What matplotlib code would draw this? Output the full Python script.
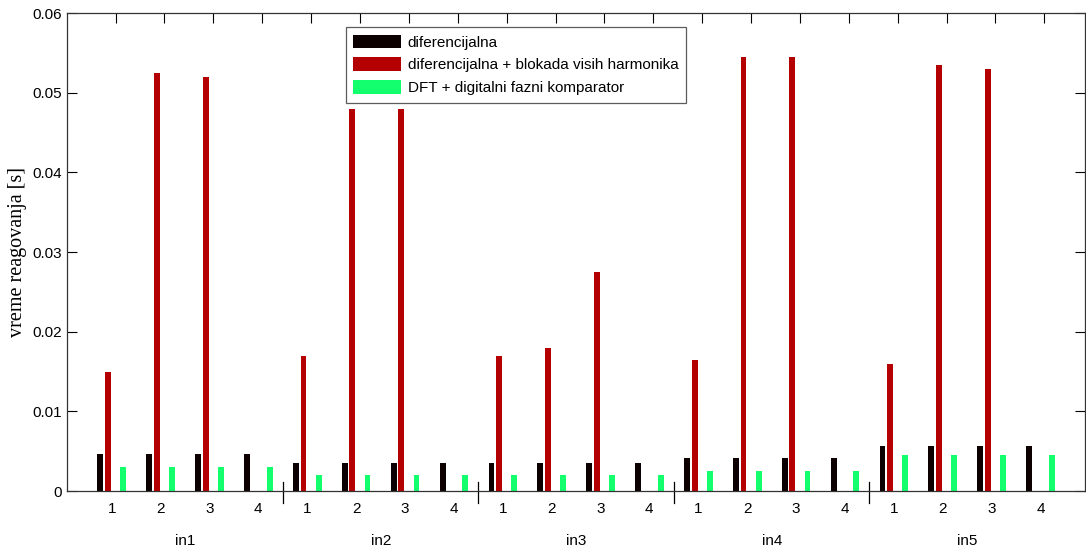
import numpy as np
import matplotlib.pyplot as plt

# podaci ocitani sa grafika (vreme reagovanja u sekundama)
grupe = ["in1", "in2", "in3", "in4", "in5"]
slucajevi = ["1", "2", "3", "4"]

diferencijalna = [0.0046, 0.0046, 0.0046, 0.0046,
                  0.0035, 0.0035, 0.0035, 0.0035,
                  0.0035, 0.0035, 0.0035, 0.0035,
                  0.0041, 0.0041, 0.0041, 0.0041,
                  0.0056, 0.0056, 0.0056, 0.0056]
blokada = [0.0150, 0.0525, 0.0520, 0.0,
           0.0170, 0.0480, 0.0480, 0.0,
           0.0170, 0.0180, 0.0275, 0.0,
           0.0165, 0.0545, 0.0545, 0.0,
           0.0160, 0.0535, 0.0530, 0.0]
dft = [0.0030, 0.0030, 0.0030, 0.0030,
       0.0020, 0.0020, 0.0020, 0.0020,
       0.0020, 0.0020, 0.0020, 0.0020,
       0.0025, 0.0025, 0.0025, 0.0025,
       0.0045, 0.0045, 0.0045, 0.0045]

nazivi = ["diferencijalna",
          "diferencijalna + blokada visih harmonika",
          "DFT + digitalni fazni komparator"]
boje = ["#0d0000", "#b40000", "#14ff6e"]

plt.rcParams["font.family"] = "Liberation Sans"

x = np.arange(1, len(diferencijalna) + 1)
sirina = 0.12

fig = plt.figure(figsize=(10.86, 5.49), dpi=100)
ax = fig.add_axes([0.0614, 0.1056, 0.9376, 0.8707])

ax.bar(x - 0.31, diferencijalna, sirina, color=boje[0], label=nazivi[0])
ax.bar(x - 0.155, blokada, sirina, color=boje[1], label=nazivi[1])
ax.bar(x + 0.155, dft, sirina, color=boje[2], label=nazivi[2])

ax.set_xlim(0, 20.83)
ax.set_ylim(0, 0.06)
ax.set_yticks(np.arange(0, 0.061, 0.01))
ax.set_yticklabels(["0", "0.01", "0.02", "0.03", "0.04", "0.05", "0.06"])
ax.set_xticks(x)
ax.set_xticklabels([])
ax.tick_params(axis="x", bottom=False, top=True, direction="in", length=7.5, width=0.8)
ax.tick_params(axis="y", left=True, right=True, direction="in", length=7.5,
               width=0.8, labelsize=11)
for s in ax.spines.values():
    s.set_color("#333333")
    s.set_linewidth(0.9)

ax.set_ylabel("vreme reagovanja [s]", family="Liberation Serif", fontsize=14.5,
              labelpad=4)

# oznake slucajeva, separatori i nazivi grupa
for i, xi in enumerate(x):
    ax.text(xi - 0.08, -0.00225, slucajevi[i % 4], ha="center", va="center",
            fontsize=11, clip_on=False)
for k in range(1, len(grupe)):
    ax.plot([4 * k + 0.42] * 2, [0.0011, -0.0015], color="black", lw=0.9,
            clip_on=False)
for k, g in enumerate(grupe):
    ax.text(4 * k + 2.43, -0.0063, g, ha="center", va="center", fontsize=11,
            clip_on=False)

leg = ax.legend(loc="upper left", bbox_to_anchor=(0.274, 0.971), fontsize=11,
                frameon=True, fancybox=False, edgecolor="#333333",
                handlelength=3.1, handleheight=1.0, handletextpad=0.45,
                labelspacing=0.5, borderpad=0.5, borderaxespad=0)
leg.get_frame().set_linewidth(0.9)

plt.savefig("out.png", dpi=100)
